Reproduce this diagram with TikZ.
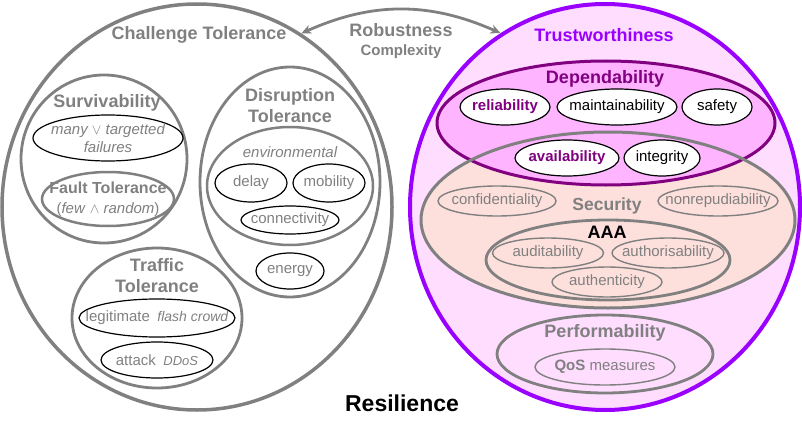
\documentclass[tikz,border=0pt]{standalone}
\usepackage{fontspec}
\setmainfont{Liberation Sans}
\usepackage{xcolor}
\usepackage{tikz}
\usetikzlibrary{arrows.meta,shapes.geometric}

\definecolor{greyline}{HTML}{808080}
\definecolor{violetring}{HTML}{9900FF}
\definecolor{depline}{HTML}{800080}
\definecolor{trustfill}{HTML}{FFDDFF}
\definecolor{depfill}{HTML}{FFB4FF}
\definecolor{secfill}{HTML}{FDE0DC}

\begin{document}
\begin{tikzpicture}[x=1pt,y=-1pt,
    sz/.style 2 args={minimum width=#1pt, minimum height=#2pt},
    blob/.style={ellipse, draw=greyline, line width=3.5pt, inner sep=0pt},
    ring/.style={ellipse, draw=greyline, line width=2.8pt, inner sep=0pt},
    oval/.style={ellipse, draw=black, line width=1.2pt, inner sep=0pt},
    goval/.style={ellipse, draw=greyline, line width=1.4pt, inner sep=0pt},
    ttl/.style={font=\fontsize{18}{21}\selectfont\bfseries, text=greyline, align=center},
    itm/.style={font=\fontsize{15}{18}\selectfont, text=greyline},
    >={Stealth[length=10pt,width=9pt,inset=3pt]}]
  \useasboundingbox (0,0) rectangle (802,425);

  % challenge tolerance side
  \node[blob, sz={390}{406}] (ct) at (197,207) {};
  \node[ttl] (ct-t) at (199,35) {Challenge Tolerance};

  \node[ring, sz={166}{168}] (surv) at (104,159) {};
  \node[ttl] (surv-t) at (107,103) {Survivability};
  \node[oval, sz={150}{46},
    label={[itm, font=\fontsize{15}{18}\selectfont\itshape, align=center]center:many $\vee$ targetted\\failures}]
    (many) at (108,138) {};
  \node[ring, line width=2.5pt, sz={132}{54}] (ft) at (108,199) {};
  \node[ttl, font=\fontsize{16}{18}\selectfont\bfseries] (ft-t) at (108,188) {Fault Tolerance};
  \node[itm] (ft-s) at (108,210) {(\textit{few} $\wedge$ \textit{random})};

  \node[ring, sz={180}{230}] (dt) at (290,182) {};
  \node[ttl] (dt-t) at (290,106) {Disruption\\Tolerance};
  \node[ring, line width=2.5pt, sz={166}{118}] (env) at (290,186) {};
  \node[itm, font=\fontsize{15}{18}\selectfont\itshape] (env-t) at (290,152) {environmental};
  \foreach \nm/\x/\y/\w/\h in {delay/251/183/72/38, mobility/329/183/72/38,
      connectivity/290/220/98/28, energy/290/271/68/36}
    \node[oval, sz={\w}{\h}, label={[itm]center:\nm}] (\nm) at (\x,\y) {};

  \node[ring, sz={170}{140}] (tt) at (157,318) {};
  \node[ttl] (tt-t) at (157,276) {Traffic\\Tolerance};
  \node[oval, sz={156}{38},
    label={[itm]center:legitimate\enspace{\fontsize{14}{16}\selectfont\itshape flash crowd}}]
    (legit) at (157,318) {};
  \node[oval, sz={112}{36},
    label={[itm]center:attack\enspace{\fontsize{13}{15}\selectfont\itshape DDoS}}]
    (attack) at (157,360) {};

  % trustworthiness side
  \node[ellipse, draw=violetring, fill=trustfill, line width=4pt, inner sep=0pt, sz={390}{406}]
    (tw) at (605,207) {};
  \node[ttl, text=violetring] (tw-t) at (604,35) {Trustworthiness};

  \node[ellipse, fill=secfill, inner sep=0pt, sz={374}{176}] (sec) at (608,220) {};
  \node[ellipse, draw=depline, fill=depfill, line width=3pt, inner sep=0pt, sz={338}{124}]
    (dep) at (606,123) {};
  \draw[greyline, line width=3pt] (sec.center) ellipse [x radius=187, y radius=88];
  \node[ttl, text=depline] (dep-t) at (605,79) {Dependability};

  \foreach \nm/\x/\y/\w in {reliability/505/107/90, availability/567/158/104}
    \node[oval, fill=white, sz={\w}{36},
      label={[itm, font=\fontsize{15}{18}\selectfont\bfseries, text=depline]center:\nm}]
      (\nm) at (\x,\y) {};
  \foreach \nm/\x/\y/\w in {maintainability/617/107/120, safety/717/107/70, integrity/662/158/76}
    \node[oval, fill=white, sz={\w}{36}, label={[itm, text=black]center:\nm}] (\nm) at (\x,\y) {};

  \node[ttl, font=\fontsize{17.5}{20}\selectfont\bfseries] (sec-t) at (607,206) {Security};
  \foreach \nm/\x/\y/\w in {confidentiality/497/201/118, nonrepudiability/718/201/120,
      auditability/548/253/111, authorisability/668/253/112, authenticity/607/282/110}
    \node[goval, sz={\w}{30}, label={[itm]center:\nm}] (\nm) at (\x,\y) {};
  \node[ring, sz={244}{80}] (aaa) at (608,260) {};
  \node[ttl, text=black] (aaa-t) at (607,232) {AAA};

  \node[ring, sz={216}{78}] (perf) at (605,354) {};
  \node[ttl] (perf-t) at (605,333) {Performability};
  \node[goval, sz={140}{36}, label={[itm]center:\textbf{QoS} measures}] (qos) at (605,367) {};

  % link between the two sides
  \node[ttl] (rob) at (401,30) {Robustness};
  \node[ttl, font=\fontsize{15}{18}\selectfont\bfseries] (cplx) at (401,52) {Complexity};
  \draw[<->, greyline, line width=2.8pt] (ct.59) to[bend left=24] (tw.121);

  \node[font=\fontsize{23}{26}\selectfont\bfseries] (res) at (402,403) {Resilience};
\end{tikzpicture}
\end{document}
